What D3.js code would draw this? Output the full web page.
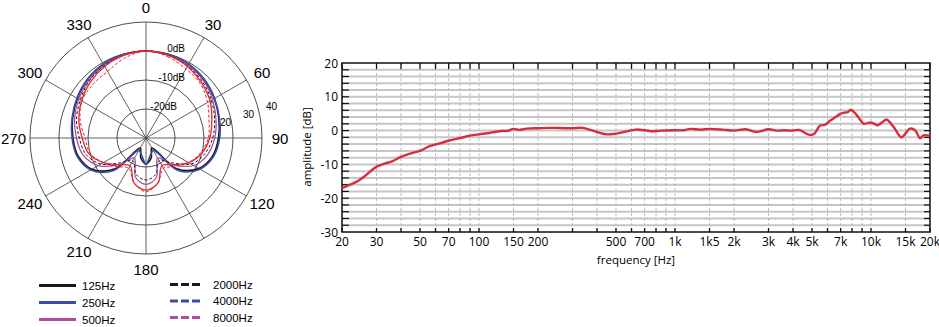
<!DOCTYPE html>
<html>
<head>
<meta charset="utf-8">
<script src="https://cdn.jsdelivr.net/npm/d3@7"></script>
<style>
  body { margin: 0; background: #fff; }
  svg { display: block; }
</style>
</head>
<body>
<svg id="chart" width="939" height="327"></svg>
<script>
// ---- polar data (dB at angles 0..345, step 15) ----
var angles = d3.range(0, 360, 15);
var pol125  = [0, -0.2, -0.7, -1.6, -2.8, -4, -5, -6.2, -9, -15, -26, -23, -21, -23, -26, -15, -8.5, -5.8, -4.8, -3.8, -2.7, -1.5, -0.6, -0.2];
var pol250  = [0, -0.2, -0.6, -1.5, -2.7, -3.8, -4.6, -5.8, -8.5, -14, -25, -24, -21, -24, -25, -14, -8, -5.4, -4.5, -3.6, -2.5, -1.4, -0.6, -0.2];
var pol500  = [0, -0.3, -1, -2, -3.5, -5, -6.3, -8, -11, -17, -22, -16, -14, -16, -22, -17, -11, -7.5, -6, -4.5, -3.2, -2, -1, -0.3];
var pol2000 = [0, -0.4, -1.3, -2.5, -4, -5.5, -7, -9, -12, -18, -21, -17, -15.5, -17, -21, -18, -12, -8.5, -7, -5.2, -3.8, -2.3, -1.2, -0.4];
var pol4000 = [0, -0.5, -1.5, -3, -4.5, -6.5, -8, -10, -13, -17, -19, -14, -12, -14, -19, -17, -13, -9.5, -8, -6, -4.3, -2.8, -1.5, -0.5];
var pol8000 = [0, -1, -2.5, -3.5, -5.5, -7.5, -8.5, -10.5, -13, -16, -18, -14, -11.5, -14, -18, -16, -13, -10, -9, -6.5, -4.5, -4, -3.5, -1.5];

var polarSeries = [
  { name: "125Hz",  values: pol125,  color: "#1a1a1a", plot: "#1a1a1a", width: 1.6, dash: null,  legendDash: false },
  { name: "250Hz",  values: pol250,  color: "#3c4ca6", plot: "#3c4ca6", width: 1.6, dash: null,  legendDash: false },
  { name: "500Hz",  values: pol500,  color: "#b04c9e", plot: "#a64aa8", width: 1.2, dash: null,  legendDash: false },
  { name: "2000Hz", values: pol2000, color: "#1a1a1a", plot: "#1a1a1a", width: 1,   dash: "3,2", legendDash: true },
  { name: "4000Hz", values: pol4000, color: "#3c4ca6", plot: "#e0262e", width: 1.3, dash: null,  legendDash: true },
  { name: "8000Hz", values: pol8000, color: "#b04c9e", plot: "#e0262e", width: 1,   dash: "3,2", legendDash: true }
];
var ringDb = [-20, -10, 0, 10];
var ringLabels = ["-20dB", "-10dB", "0dB"];
var angleLabels = [0, 30, 60, 90, 120, 180, 210, 240, 270, 300, 330];
var sideLabels = ["20", "30", "40"];

// ---- frequency response data ----
var freqs = [20, 22, 24, 26, 28, 30, 33, 36, 40, 44, 50, 56, 63, 70, 80, 90, 100, 113, 120, 131, 140, 150, 160, 175, 200, 225, 246, 275, 300, 338, 394, 444, 500, 560, 630, 700, 770, 850, 1000, 1100, 1200, 1350, 1500, 1750, 2000, 2300, 2600, 3000, 3300, 3600, 4000, 4300, 4800, 5100, 5500, 5800, 6200, 6600, 7000, 7300, 7600, 7900, 8400, 8800, 9200, 10000, 10800, 11500, 12000, 13000, 14300, 15000, 15800, 16800, 17800, 18500, 20000];
var amps  = [-17, -16, -15, -13.6, -12, -10.7, -9.8, -9.1, -7.8, -6.9, -6, -4.6, -3.8, -3, -2.2, -1.5, -1.1, -0.7, -0.4, -0.1, -0.1, 0.5, 0.2, 0.6, 0.7, 0.8, 0.8, 0.7, 0.7, 0.8, -0.3, -1.1, -0.9, -0.3, 0.3, 0.1, -0.2, 0, 0.1, 0.1, 0.5, 0.3, 0.5, 0.3, 0, 0.4, -0.4, 0.4, 0, 0.1, 0, 0.2, -1.2, -1.1, 1.5, 1.7, 3, 4, 5, 5.3, 5.5, 6.1, 4.8, 3.2, 2, 2.4, 1.6, 2.6, 3.3, 1.2, -2, -0.8, 0.6, 0.1, -2.3, -1.4, -1.5];
var gridFreqs = [20, 30, 40, 50, 60, 70, 80, 90, 100, 150, 200, 300, 400, 500, 600, 700, 800, 900, 1000, 1500, 2000, 3000, 4000, 5000, 6000, 7000, 8000, 9000, 10000, 15000, 20000];
var freqTicks = [20, 30, 50, 70, 100, 150, 200, 500, 700, 1000, 1500, 2000, 3000, 4000, 5000, 7000, 10000, 15000, 20000];
var freqTickLabels = ["20", "30", "50", "70", "100", "150", "200", "500", "700", "1k", "1k5", "2k", "3k", "4k", "5k", "7k", "10k", "15k", "20k"];
var ampTicks = [20, 10, 0, -10, -20, -30];

var svg = d3.select("#chart");

// ================= polar chart =================
var cx = 146, cy = 138;
var r = d3.scaleLinear().domain([-30, 10]).range([0, 116]).clamp(true);
var polar = svg.append("g").attr("transform", "translate(" + cx + "," + cy + ")");

polar.selectAll("circle.ring").data(ringDb).enter().append("circle")
  .attr("class", "ring")
  .attr("r", function (d) { return r(d); })
  .attr("fill", "none").attr("stroke", "#3a3a3a").attr("stroke-width", 0.9);

polar.selectAll("line.spoke").data(d3.range(0, 360, 30)).enter().append("line")
  .attr("class", "spoke")
  .attr("x1", 0).attr("y1", 0)
  .attr("x2", function (d) { return r(10) * Math.sin(d * Math.PI / 180); })
  .attr("y2", function (d) { return -r(10) * Math.cos(d * Math.PI / 180); })
  .attr("stroke", "#3a3a3a").attr("stroke-width", 0.8);

var radial = d3.lineRadial()
  .angle(function (d, i) { return angles[i] * Math.PI / 180; })
  .radius(function (d) { return r(d); })
  .curve(d3.curveCatmullRomClosed.alpha(0.5));

polar.selectAll("path.pol").data(polarSeries).enter().append("path")
  .attr("class", "pol")
  .attr("d", function (d) { return radial(d.values); })
  .attr("fill", "none")
  .attr("stroke", function (d) { return d.plot; })
  .attr("stroke-width", function (d) { return d.width; })
  .attr("stroke-dasharray", function (d) { return d.dash; });

// ring labels
polar.selectAll("text.rl").data(ringLabels).enter().append("text")
  .attr("class", "rl")
  .attr("x", function (d, i) { return i === 0 ? 31 : 39; })
  .attr("y", function (d, i) { return -r(ringDb[i]) + 1; })
  .attr("text-anchor", "end")
  .style("font", "10px 'Liberation Sans', Arial, sans-serif")
  .text(function (d) { return d; });

polar.selectAll("text.sl").data(sideLabels).enter().append("text")
  .attr("class", "sl")
  .attr("x", function (d, i) { return 79.5 + i * 23; })
  .attr("y", function (d, i) { return -12.5 - i * 8; })
  .attr("text-anchor", "middle")
  .style("font", "10px 'Liberation Sans', Arial, sans-serif")
  .text(function (d) { return d; });

// angle labels
polar.selectAll("text.al").data(angleLabels).enter().append("text")
  .attr("class", "al")
  .attr("x", function (d) { return 134 * Math.sin(d * Math.PI / 180) + (d === 270 ? 1.5 : 0); })
  .attr("y", function (d) { return -131 * Math.cos(d * Math.PI / 180) + 5.5; })
  .attr("text-anchor", "middle")
  .style("font", "15px 'Liberation Sans', Arial, sans-serif")
  .text(function (d) { return d; });

// legend
var legend = svg.append("g");
var leg = legend.selectAll("g").data(polarSeries).enter().append("g")
  .attr("transform", function (d, i) {
    var col = i < 3 ? 0 : 1, row = i % 3;
    return "translate(" + (col ? 170 : 39) + "," + ((col ? 284.5 : 285.5) + row * (col ? 16.5 : 17)) + ")";
  });
leg.append("line")
  .attr("x1", 0).attr("x2", function (d, i) { return i < 3 ? 37 : 33; })
  .attr("stroke", function (d) { return d.color; })
  .attr("stroke-width", 2.8)
  .attr("stroke-dasharray", function (d) { return d.legendDash ? "8,3" : null; });
leg.append("text")
  .attr("x", 43)
  .attr("y", 4)
  .style("font", "11.5px 'Liberation Sans', Arial, sans-serif")
  .text(function (d) { return d.name; });

// ================= frequency response =================
var plotLeft = 342, plotRight = 930, plotTop = 63, plotBottom = 232;
var x = d3.scaleLog().domain([20, 20000]).range([plotLeft, plotRight]);
var y = d3.scaleLinear().domain([-30, 20]).range([plotBottom, plotTop]);
var fr = svg.append("g");
var dbSteps = d3.range(-28, 20, 2);

fr.selectAll("line.hg").data(dbSteps).enter().append("line")
  .attr("class", "hg")
  .attr("x1", plotLeft).attr("x2", plotRight)
  .attr("y1", function (d) { return y(d); }).attr("y2", function (d) { return y(d); })
  .attr("stroke", "#c6c6c6").attr("stroke-width", 2);

fr.selectAll("line.vg").data(gridFreqs.slice(1, -1)).enter().append("line")
  .attr("class", "vg")
  .attr("x1", function (d) { return x(d); }).attr("x2", function (d) { return x(d); })
  .attr("y1", plotTop).attr("y2", plotBottom)
  .attr("stroke", "#b0b0b0").attr("stroke-width", 0.8).attr("stroke-dasharray", "3,2");

// frame ticks
fr.selectAll("line.tt").data(gridFreqs).enter().append("line")
  .attr("class", "tt")
  .attr("x1", function (d) { return x(d); }).attr("x2", function (d) { return x(d); })
  .attr("y1", plotTop).attr("y2", plotTop + 6)
  .attr("stroke", "#111").attr("stroke-width", 1.3);
fr.selectAll("line.bt").data(gridFreqs).enter().append("line")
  .attr("class", "bt")
  .attr("x1", function (d) { return x(d); }).attr("x2", function (d) { return x(d); })
  .attr("y1", plotBottom).attr("y2", plotBottom - 4)
  .attr("stroke", "#111").attr("stroke-width", 1.3);
fr.selectAll("line.lt").data(dbSteps).enter().append("line")
  .attr("class", "lt")
  .attr("x1", plotLeft).attr("x2", plotLeft + 7)
  .attr("y1", function (d) { return y(d); }).attr("y2", function (d) { return y(d); })
  .attr("stroke", "#111").attr("stroke-width", 1.2);
fr.selectAll("line.rt").data(dbSteps).enter().append("line")
  .attr("class", "rt")
  .attr("x1", plotRight - 6).attr("x2", plotRight)
  .attr("y1", function (d) { return y(d); }).attr("y2", function (d) { return y(d); })
  .attr("stroke", "#111").attr("stroke-width", 1.2);

fr.append("rect")
  .attr("x", plotLeft).attr("y", plotTop).attr("width", plotRight - plotLeft).attr("height", plotBottom - plotTop)
  .attr("fill", "none").attr("stroke", "#111").attr("stroke-width", 1.5);

var line = d3.line()
  .x(function (d, i) { return x(freqs[i]); })
  .y(function (d) { return y(d); })
  .curve(d3.curveCatmullRom.alpha(0.5));
fr.append("path")
  .attr("d", line(amps))
  .attr("fill", "none").attr("stroke", "#d42f3e").attr("stroke-width", 2.4)
  .attr("stroke-linejoin", "round");

var tickFont = "12px 'Open Sans', 'Liberation Sans', sans-serif";
fr.selectAll("text.xl").data(freqTicks).enter().append("text")
  .attr("class", "xl")
  .attr("x", function (d) { return x(d); })
  .attr("y", 246)
  .attr("text-anchor", "middle")
  .style("font", tickFont)
  .text(function (d, i) { return freqTickLabels[i]; });
fr.selectAll("text.yl").data(ampTicks).enter().append("text")
  .attr("class", "yl")
  .attr("x", 338)
  .attr("y", function (d) { return y(d) + 4.5; })
  .attr("text-anchor", "end")
  .style("font", tickFont)
  .text(function (d) { return d; });

fr.append("text")
  .attr("transform", "translate(311,147) rotate(-90)")
  .attr("text-anchor", "middle")
  .style("font", "11.5px 'Open Sans', 'Liberation Sans', sans-serif")
  .text("amplitude [dB]");
fr.append("text")
  .attr("x", 636).attr("y", 264)
  .attr("text-anchor", "middle")
  .style("font", "11.5px 'Open Sans', 'Liberation Sans', sans-serif")
  .text("frequency [Hz]");
</script>
</body>
</html>
